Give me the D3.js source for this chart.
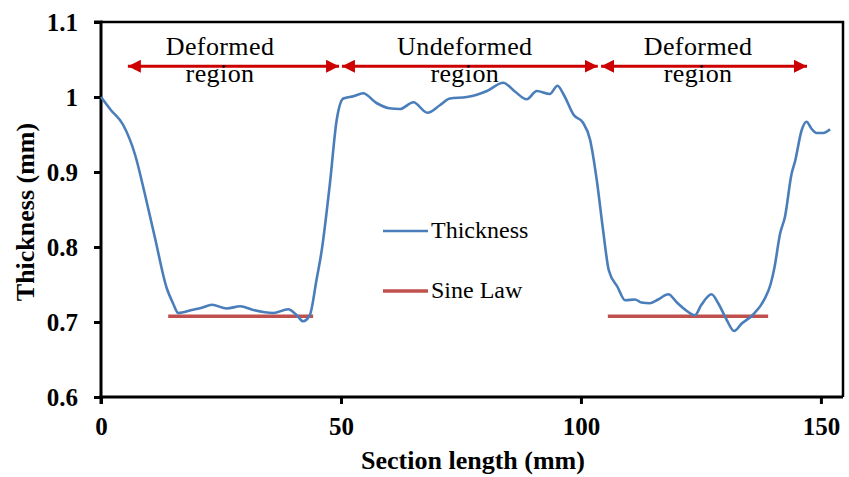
<!DOCTYPE html>
<html>
<head>
<meta charset="utf-8">
<script src="https://cdn.jsdelivr.net/npm/d3@7"></script>
<style>
  html, body { margin: 0; padding: 0; background: #fff; }
  svg { display: block; }
</style>
</head>
<body>
<svg id="chart" width="849" height="477"></svg>
<script>
// ---- data ----
const sectionLength = [0, 2, 4.6, 7.1, 9.2, 11.25, 13.7, 15, 16.1, 18.9, 21, 23.1, 26.2, 29, 31.7, 35.9, 39, 40.8, 42.1, 43.5, 44.9, 46, 47.7, 49.1, 50.5, 52.6, 54.6, 57.4, 60, 62.3, 65.1, 68, 70.6, 72.7, 76.2, 78.3, 80.4, 83.8, 86.3, 88.7, 90.8, 93.5, 95.1, 96.5, 98.5, 100.4, 101.9, 103.3, 104.6, 105.8, 107.6, 109.2, 111.25, 112.6, 114.4, 116.1, 118.2, 120, 122, 123.75, 125.1, 127.2, 128.6, 130.35, 131.9, 133.5, 135.9, 138.2, 139.5, 140.3, 141.5, 142.5, 143.9, 144.6, 146, 147, 148, 149.1, 150.5, 151.9];
const thickness = [1.0, 0.983, 0.963, 0.923, 0.869, 0.812, 0.745, 0.725, 0.712, 0.716, 0.719, 0.723, 0.718, 0.721, 0.716, 0.712, 0.717, 0.709, 0.701, 0.709, 0.756, 0.796, 0.885, 0.969, 0.998, 1.001, 1.005, 0.992, 0.985, 0.984, 0.993, 0.979, 0.989, 0.998, 1.0, 1.003, 1.008, 1.019, 1.007, 0.997, 1.008, 1.004, 1.015, 1.002, 0.976, 0.966, 0.943, 0.889, 0.823, 0.769, 0.747, 0.729, 0.730, 0.726, 0.725, 0.730, 0.737, 0.726, 0.715, 0.709, 0.723, 0.737, 0.725, 0.703, 0.688, 0.698, 0.710, 0.730, 0.750, 0.772, 0.818, 0.840, 0.898, 0.914, 0.956, 0.967, 0.958, 0.952, 0.952, 0.957];
const sineLawSegments = [[14.0, 44.2], [105.6, 139.0]];
const sineLawValue = 0.7076;
const regionLabels = ["Deformed", "Undeformed", "Deformed"];
const regionLabelX = [24.8, 75.8, 124.4];
const regionArrowStart = [5.6, 50.2, 104.2];
const regionArrowEnd = [49.6, 103.5, 147.1];
const regionArrowY = 1.041;
const xTicks = [0, 50, 100, 150];
const yTicks = [0.6, 0.7, 0.8, 0.9, 1.0, 1.1];
const yTickLabels = ["0.6", "0.7", "0.8", "0.9", "1", "1.1"];
const seriesNames = ["Thickness", "Sine Law"];

// ---- layout ----
const FONT = "Liberation Serif";
const svg = d3.select("#chart");
const x = d3.scaleLinear().domain([0, 154.6]).range([101, 843]);
const y = d3.scaleLinear().domain([0.6, 1.1]).range([397, 22]);
const blue = "#4a7ebb", red = "#c0504d", arrowRed = "#cc0000";

// frame (top & right)
svg.append("path")
  .attr("d", `M${x(0)},${y(1.1)}H${x(154.6)}V${y(0.6)}`)
  .attr("fill", "none").attr("stroke", "#000").attr("stroke-width", 2.5);

// axes
const xAxis = svg.append("g").attr("transform", `translate(0,${y(0.6)})`)
  .call(d3.axisBottom(x).tickValues(xTicks).tickSize(7).tickPadding(13).tickFormat(d3.format("d")));
const yAxis = svg.append("g").attr("transform", `translate(${x(0)},0)`)
  .call(d3.axisLeft(y).tickValues(yTicks).tickSize(7).tickPadding(16)
    .tickFormat((d, i) => yTickLabels[i]));
[xAxis, yAxis].forEach(g => {
  g.select(".domain").attr("stroke", "#000").attr("stroke-width", 3);
  g.selectAll(".tick line").attr("stroke", "#000").attr("stroke-width", 3);
  g.selectAll(".tick text").attr("fill", "#000")
    .style("font-family", FONT).style("font-size", "25px").style("font-weight", "bold");
});
xAxis.select(".domain").attr("d", `M${x(0)},7V0H${x(154.6)}`);
yAxis.select(".domain").attr("d", `M-7,${y(1.1)}H0V${y(0.6)}`);

// axis titles
svg.append("text").attr("x", 473).attr("y", 469).attr("text-anchor", "middle")
  .style("font-family", FONT).style("font-size", "26px").style("font-weight", "bold")
  .text("Section length (mm)");
svg.append("text").attr("transform", `translate(34,212) rotate(-90)`)
  .attr("text-anchor", "middle")
  .style("font-family", FONT).style("font-size", "26px").style("font-weight", "bold")
  .text("Thickness (mm)");

// sine law
svg.append("g").selectAll("line").data(sineLawSegments).join("line")
  .attr("x1", d => x(d[0])).attr("x2", d => x(d[1]))
  .attr("y1", y(sineLawValue)).attr("y2", y(sineLawValue))
  .attr("stroke", red).attr("stroke-width", 3.5);

// thickness
const pts = sectionLength.map((d, i) => [d, thickness[i]]);
svg.append("path").datum(pts)
  .attr("d", d3.line().x(d => x(d[0])).y(d => y(d[1])).curve(d3.curveMonotoneX))
  .attr("fill", "none").attr("stroke", blue).attr("stroke-width", 2.6)
  .attr("stroke-linejoin", "round");

// region arrows
const defs = svg.append("defs");
defs.append("marker").attr("id", "ah").attr("viewBox", "0 0 10 10")
  .attr("refX", 10).attr("refY", 5).attr("markerUnits", "userSpaceOnUse")
  .attr("markerWidth", 13).attr("markerHeight", 13).attr("orient", "auto-start-reverse")
  .append("path").attr("d", "M0,0L10,5L0,10Z").attr("fill", arrowRed);
const ay = y(regionArrowY);
svg.append("g").selectAll("line").data(regionArrowStart).join("line")
  .attr("x1", d => x(d)).attr("x2", (d, i) => x(regionArrowEnd[i]))
  .attr("y1", ay).attr("y2", ay)
  .attr("stroke", arrowRed).attr("stroke-width", 3)
  .attr("marker-start", "url(#ah)").attr("marker-end", "url(#ah)");
const lbl = svg.append("g").selectAll("g").data(regionLabels).join("g");
lbl.append("text").attr("x", (d, i) => x(regionLabelX[i])).attr("y", ay - 11)
  .attr("text-anchor", "middle").style("font-family", FONT).style("font-size", "26px")
  .style("letter-spacing", "0.4px").text(d => d);
lbl.append("text").attr("x", (d, i) => x(regionLabelX[i])).attr("y", ay + 16)
  .attr("text-anchor", "middle").style("font-family", FONT).style("font-size", "26px")
  .style("letter-spacing", "0.4px").text("region");

// legend
const legend = svg.append("g");
[blue, red].forEach((c, i) => {
  const ly = 231 + i * 60;
  legend.append("line").attr("x1", 383).attr("x2", 428).attr("y1", ly).attr("y2", ly)
    .attr("stroke", c).attr("stroke-width", i === 0 ? 2.6 : 3.5);
  legend.append("text").attr("x", 431).attr("y", ly + 7)
    .style("font-family", FONT).style("font-size", "24px").text(seriesNames[i]);
});
</script>
</body>
</html>
